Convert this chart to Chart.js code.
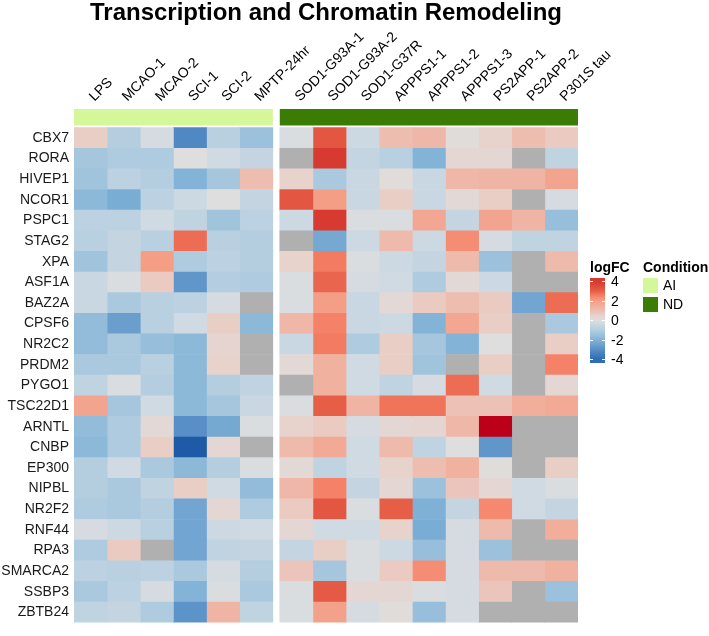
<!DOCTYPE html>
<html>
<head>
<meta charset="utf-8">
<script src="https://cdn.jsdelivr.net/npm/chart.js@4"></script>
<style>
  html, body { margin: 0; padding: 0; background: #ffffff; }
  #wrap { position: relative; width: 709px; height: 636px; }
  #c { position: absolute; left: 0; top: 0; }
  .lg { position: absolute; font-family: 'Liberation Sans', Arial, sans-serif; color: #000; font-size: 14px; line-height: 14px; }
  .lgt { font-weight: bold; }
  .sw { position: absolute; width: 15px; height: 15px; }
  .tk { position: absolute; width: 3px; height: 1px; background: #fff; }
</style>
</head>
<body>
<div id="wrap">
  <canvas id="c" width="709" height="636"></canvas>
</div>
<script>
// ---------------- data ----------------
const genes = ['CBX7','RORA','HIVEP1','NCOR1','PSPC1','STAG2','XPA','ASF1A','BAZ2A','CPSF6','NR2C2','PRDM2','PYGO1','TSC22D1','ARNTL','CNBP','EP300','NIPBL','NR2F2','RNF44','RPA3','SMARCA2','SSBP3','ZBTB24'];
const aiConditions = ['LPS','MCAO-1','MCAO-2','SCI-1','SCI-2','MPTP-24hr'];
const ndConditions = ['SOD1-G93A-1','SOD1-G93A-2','SOD1-G37R','APPPS1-1','APPPS1-2','APPPS1-3','PS2APP-1','PS2APP-2','P301S tau'];
const conditionGroups = ['AI','ND'];
const legendTicks = [4, 2, 0, -2, -4];

// logFC, rows = genes, columns = aiConditions (null = NA)
const aiValues = [
  [ 0.6,-1.0,-0.2,-3.2,-0.9,-1.5],
  [-1.3,-1.1,-1.1, 0.0,-0.3,-0.6],
  [-1.4,-0.8,-1.0,-2.0,-1.3, 1.0],
  [-1.8,-2.2,-0.8,-0.4, 0.0,-0.6],
  [-0.8,-0.8,-0.3,-0.7,-1.4,-0.8],
  [-0.9,-0.6,-0.9, 2.8,-0.9,-1.0],
  [-1.4,-0.6, 2.0,-1.1,-0.8,-1.0],
  [-0.5,-0.1, 0.7,-2.8,-1.0,-1.1],
  [-0.5,-1.2,-0.9,-0.8,-0.2, null],
  [-1.7,-2.6,-0.9,-0.3, 0.6,-1.8],
  [-1.7,-1.2,-1.6,-1.8, 0.4, null],
  [-1.2,-1.2,-0.9,-1.8, 0.5, null],
  [-0.7,-0.1,-1.0,-1.8,-1.0,-0.7],
  [ 1.8,-1.3,-0.3,-1.8,-1.3,-0.5],
  [-1.7,-1.1, 0.2,-3.0,-2.3,-0.1],
  [-1.8,-1.1, 0.6,-4.6, 0.3, null],
  [-1.0,-0.3,-1.2,-1.8,-1.0,-0.1],
  [-1.0,-1.2,-0.7, 0.6,-0.3,-1.7],
  [-1.1,-1.2,-1.0,-2.4, 0.3,-1.1],
  [-0.2,-0.4,-0.9,-2.4,-0.4,-0.3],
  [-1.1, 0.7, null,-2.4,-0.7,-0.6],
  [-0.8,-0.9,-0.8,-1.2,-0.2,-1.0],
  [-1.2,-0.8,-0.2,-2.0,-0.1,-1.2],
  [-0.7,-0.6,-1.1,-2.9, 1.3,-0.7]
];

// logFC, rows = genes, columns = ndConditions (null = NA)
const ndValues = [
  [-0.1, 3.2,-0.4, 1.0, 1.2, 0.1, 0.5, 1.0, 0.7],
  [null, 4.0,-0.6,-0.9,-2.0, 0.3, 0.3, null,-0.7],
  [ 0.5,-1.2,-0.5, 0.1,-0.5, 1.2, 1.3, 1.3, 1.8],
  [ 3.2, 2.0,-0.5, 0.6,-0.5, 0.2, 0.6, null,-0.2],
  [-0.4, 4.0,-0.1,-0.1, 1.7,-0.6, 1.8, 1.3,-1.6],
  [null,-2.3,-0.4, 1.1,-0.4, 2.3,-0.2,-0.7,-0.7],
  [ 0.5, 2.6,-0.1,-0.4,-0.6, 1.1,-1.5, null, 1.1],
  [-0.1, 2.9,-0.2,-0.3,-1.1, 0.2,-0.4, null, null],
  [-0.1, 2.0,-0.5, 0.2, 0.7, 1.0, 0.7,-2.4, 2.8],
  [ 1.2, 2.5,-0.5,-0.4,-2.0, 1.7, 0.6, null,-1.2],
  [-0.5, 2.6,-1.1, 0.6,-1.3,-2.0, 0.0, null, 0.6],
  [ 0.2, 1.4,-0.3, 0.6,-1.4, null, 0.6, null, 2.5],
  [null, 1.4,-0.3,-0.7,-0.2, 2.8,-0.3, null, 0.3],
  [-0.1, 3.0, 1.3, 2.7, 2.7, 0.9, 0.9, 1.5, 1.6],
  [ 0.5, 0.7,-0.2, 0.3, 0.4, 1.2, 6.0, null, null],
  [ 1.1, 1.6,-0.3, 1.1,-0.7, 0.0,-2.8, null, null],
  [ 0.2,-0.7,-0.3, 0.5, 1.0, 1.4, 0.1, null, 0.6],
  [ 1.2, 2.5,-0.6, 0.3,-1.5, 0.8, 0.3,-0.3,-0.1],
  [ 0.7, 3.2,-0.1, 3.0,-2.1,-0.6, 2.4,-0.3,-0.6],
  [ 0.3,-0.3,-0.3, 0.5,-2.2,-0.2, 1.1, null, 1.5],
  [-0.6, 0.6,-0.1,-0.4,-1.6,-0.2,-1.5, null, null],
  [ 0.8,-1.3,-0.1, 0.7, 2.3,-0.2, 1.1, 1.1, 1.4],
  [-0.1, 3.1, 0.3, 0.3,-0.1,-0.2, 0.8, null,-1.5],
  [-0.1, 1.9,-0.2, 0.1,-1.6,-0.2, null, null, null]
];

// ---------------- styling ----------------
const FONT = "'Liberation Sans', Arial, sans-serif";
const NA_COLOR = '#B0B0B0';
const GROUP_COLORS = { AI: '#D3F799', ND: '#3B7C05' };
const GAP = 0.21; // gap between AI and ND blocks, in column units
const colorStops = [
  [-4.6, [31, 90, 166]],
  [-4.0, [47, 109, 180]],
  [-3.0, [88, 143, 199]],
  [-2.0, [131, 180, 215]],
  [-1.0, [180, 206, 224]],
  [-0.3, [208, 218, 226]],
  [ 0.0, [222, 222, 222]],
  [ 0.5, [232, 210, 204]],
  [ 1.0, [237, 189, 176]],
  [ 2.0, [245, 158, 134]],
  [ 2.5, [245, 130, 104]],
  [ 3.0, [230, 94, 70]],
  [ 4.0, [214, 58, 48]],
  [ 6.0, [189, 0, 25]]
];
function colorFor(v) {
  if (v === null || v === undefined) return NA_COLOR;
  if (v <= colorStops[0][0]) return 'rgb(' + colorStops[0][1].join(',') + ')';
  for (let k = 1; k < colorStops.length; k++) {
    const [v1, c1] = colorStops[k];
    if (v <= v1) {
      const [v0, c0] = colorStops[k - 1];
      const t = (v - v0) / (v1 - v0);
      const c = c0.map((x, i) => Math.round(x + (c1[i] - x) * t));
      return 'rgb(' + c.join(',') + ')';
    }
  }
  return 'rgb(' + colorStops[colorStops.length - 1][1].join(',') + ')';
}

const allConditions = aiConditions.concat(ndConditions);
const nAI = aiConditions.length;
const xMax = allConditions.length + GAP;
function colStart(j) { return j < nAI ? j : j + GAP; }

const yLabels = [''].concat(genes);
const datasets = [];

// condition annotation bars (top row)
conditionGroups.forEach((g, gi) => {
  const data = yLabels.map((_, i) => i === 0 ? (gi === 0 ? [0, nAI] : [nAI + GAP, xMax]) : null);
  datasets.push({
    label: g,
    data: data,
    backgroundColor: GROUP_COLORS[g],
    barPercentage: 0.8,
    categoryPercentage: 1,
    grouped: false,
    borderWidth: 0
  });
});

// heatmap cells
allConditions.forEach((cond, j) => {
  const vals = genes.map((_, i) => j < nAI ? aiValues[i][j] : ndValues[i][j - nAI]);
  const x0 = colStart(j), x1 = x0 + 1;
  datasets.push({
    label: cond,
    data: [null].concat(vals.map(() => [x0, x1])),
    backgroundColor: ['rgba(0,0,0,0)'].concat(vals.map(colorFor)),
    barPercentage: 1,
    categoryPercentage: 1,
    grouped: false,
    borderWidth: 0
  });
});

new Chart(document.getElementById('c'), {
  type: 'bar',
  data: { labels: yLabels, datasets: datasets },
  options: {
    indexAxis: 'y',
    responsive: false,
    animation: false,
    events: [],
    layout: { padding: { left: 0, right: 131, top: 0, bottom: 2 } },
    plugins: {
      legend: { display: false },
      tooltip: { enabled: false },
      title: {
        display: true,
        text: 'Transcription and Chromatin Remodeling',
        fullSize: false,
        color: '#000',
        font: { family: FONT, size: 24, weight: 'bold', lineHeight: 1.1 },
        padding: { top: 0, bottom: 0 }
      }
    },
    scales: {
      x: {
        type: 'linear',
        position: 'top',
        min: 0,
        max: xMax,
        grid: { display: false, drawTicks: false },
        border: { display: false },
        afterBuildTicks: (scale) => {
          scale.ticks = allConditions.map((_, j) => ({ value: colStart(j) + 0.5 }));
        },
        afterFit: (scale) => { scale.height = 80.6; },
        ticks: {
          autoSkip: false,
          minRotation: 45,
          maxRotation: 45,
          padding: 2,
          labelOffset: 13,
          color: '#000',
          font: { family: FONT, size: 14 },
          callback: (v, i) => allConditions[i]
        }
      },
      y: {
        type: 'category',
        grid: { display: false, drawTicks: false },
        border: { display: false },
        afterFit: (scale) => { scale.width = 74; },
        ticks: {
          autoSkip: false,
          padding: 5,
          color: '#1a1a1a',
          font: { family: FONT, size: 14 }
        }
      }
    }
  }
});

// ---------------- legends (HTML) ----------------
(function buildLegend() {
  const wrap = document.getElementById('wrap');
  function add(cls, text, left, top, extra) {
    const d = document.createElement('div');
    d.className = cls;
    if (text !== null) d.textContent = text;
    d.style.left = left + 'px';
    d.style.top = top + 'px';
    if (extra) Object.assign(d.style, extra);
    wrap.appendChild(d);
    return d;
  }
  // logFC colour bar
  const barTop = 278, barBottom = 363, vTop = 4.35, vBottom = -4.4;
  const yOf = v => barTop + (vTop - v) / (vTop - vBottom) * (barBottom - barTop);
  add('lg lgt', 'logFC', 590, 260);
  const stops = [];
  for (let k = 0; k <= 40; k++) {
    const v = vTop - (vTop - vBottom) * k / 40;
    stops.push(colorFor(Math.max(-4.0, Math.min(4.0, v))) + ' ' + (k * 2.5) + '%');
  }
  add('lg', null, 590, barTop, { width: '15px', height: (barBottom - barTop) + 'px', background: 'linear-gradient(to bottom,' + stops.join(',') + ')' });
  legendTicks.forEach(t => {
    const y = yOf(t);
    add('tk', null, 590, Math.round(y), {});
    add('tk', null, 602, Math.round(y), {});
    add('lg', String(t), 611, Math.round(y - 7), {});
  });
  // Condition legend
  add('lg lgt', 'Condition', 643, 260);
  conditionGroups.forEach((g, i) => {
    add('sw', null, 643, 278 + i * 19, { background: GROUP_COLORS[g] });
    add('lg', g, 663, 278 + i * 19, {});
  });
})();
</script>
</body>
</html>
